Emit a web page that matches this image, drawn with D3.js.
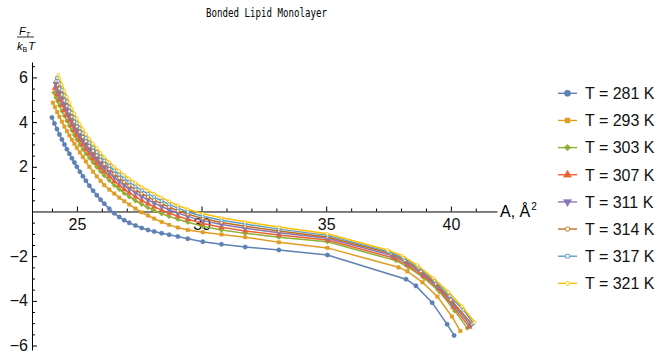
<!DOCTYPE html>
<html>
<head>
<meta charset="utf-8">
<script src="https://cdn.jsdelivr.net/npm/d3@7"></script>
<style>
body { margin: 0; background: #fff; }
svg text { font-family: "Liberation Sans", Arial, sans-serif; }
</style>
</head>
<body>
<svg id="chart" width="661" height="358"></svg>
<script>
// shared area grid (A, in square angstrom) for the dense part of every curve
var areaGrid = [24.3, 24.4, 24.5, 24.6, 24.7, 24.8, 24.9, 25.0, 25.12, 25.24, 25.36, 25.5,
    25.65, 25.8, 25.95, 26.1, 26.3, 26.5, 26.7, 26.9, 27.1, 27.35, 27.6, 27.85,
    28.1, 28.4, 28.7, 29.05, 29.45, 30.05, 30.8, 31.75, 33.1, 35.05];

var temps = [281, 293, 303, 307, 311, 314, 317, 321];
var colors = ["#5e81b5", "#e19c24", "#8fb032", "#eb6235", "#8778b3", "#c56e1a", "#5d9ec7", "#ffbf00"];

var s281 = {
    head: [[24.0, 4.21], [24.1, 3.94], [24.2, 3.69]],
    body: [3.45, 3.22, 3.00, 2.79, 2.58, 2.38, 2.19, 2.0, 1.78, 1.58, 1.38, 1.15,
        0.93, 0.73, 0.53, 0.35, 0.12, -0.08, -0.25, -0.39, -0.51, -0.63, -0.74, -0.83,
        -0.9, -0.97, -1.04, -1.12, -1.22, -1.35, -1.47, -1.59, -1.72, -1.95],
    tail: [[38.2, -3.03], [38.6, -3.33], [39.25, -4.08], [39.85, -5.05], [40.13, -5.55]]
};
var s293 = {
    head: [[24.04, 4.87], [24.12, 4.67], [24.21, 4.45]],
    body: [4.24, 4.02, 3.80, 3.60, 3.40, 3.21, 3.03, 2.85, 2.64, 2.44, 2.24, 2.0,
        1.78, 1.57, 1.37, 1.18, 0.98, 0.8, 0.62, 0.46, 0.31, 0.13, -0.04, -0.18,
        -0.32, -0.47, -0.6, -0.72, -0.83, -0.93, -1.03, -1.15, -1.38, -1.63],
    tail: [[37.9, -2.5], [38.26, -2.68], [38.86, -3.17], [39.46, -3.81], [40.04, -4.7], [40.38, -5.35]]
};
var s303 = {
    head: [[24.08, 5.32], [24.16, 5.1], [24.23, 4.93]],
    body: [4.74, 4.5, 4.28, 4.06, 3.84, 3.63, 3.42, 3.22, 3.0, 2.79, 2.59, 2.4,
        2.19, 1.99, 1.79, 1.61, 1.39, 1.17, 0.99, 0.81, 0.66, 0.48, 0.32, 0.18,
        0.04, -0.1, -0.22, -0.35, -0.48, -0.66, -0.83, -0.98, -1.15, -1.36],
    tail: [[37.8, -2.2], [38.3, -2.5], [38.95, -3.0], [39.55, -3.6], [40.15, -4.45], [40.66, -5.22]]
};
var s307 = {
    head: [[24.12, 5.52], [24.21, 5.25]],
    body: [5.01, 4.76, 4.53, 4.30, 4.07, 3.85, 3.63, 3.42, 3.20, 2.99, 2.78, 2.59,
        2.37, 2.17, 1.97, 1.79, 1.57, 1.35, 1.17, 0.99, 0.84, 0.66, 0.49, 0.35,
        0.21, 0.06, -0.07, -0.21, -0.35, -0.54, -0.71, -0.87, -1.05, -1.28],
    tail: [[37.7, -2.08], [38.25, -2.4], [38.9, -2.9], [39.5, -3.47], [40.1, -4.28], [40.74, -5.16]]
};
var s311 = {
    head: [[24.15, 5.72], [24.23, 5.49]],
    body: [5.29, 5.03, 4.78, 4.54, 4.30, 4.08, 3.85, 3.64, 3.41, 3.19, 2.99, 2.78,
        2.57, 2.37, 2.16, 1.98, 1.76, 1.54, 1.36, 1.18, 1.02, 0.84, 0.67, 0.52,
        0.38, 0.22, 0.08, -0.07, -0.22, -0.41, -0.58, -0.75, -0.95, -1.20],
    tail: [[37.65, -1.97], [38.2, -2.28], [38.85, -2.78], [39.45, -3.35], [40.05, -4.1], [40.8, -5.1]]
};
var s314 = {
    head: [[24.17, 5.84], [24.24, 5.66]],
    body: [5.50, 5.23, 4.97, 4.72, 4.48, 4.24, 4.02, 3.80, 3.56, 3.34, 3.14, 2.93,
        2.71, 2.51, 2.30, 2.12, 1.90, 1.68, 1.50, 1.32, 1.16, 0.98, 0.80, 0.65,
        0.51, 0.35, 0.20, 0.03, -0.12, -0.31, -0.49, -0.66, -0.87, -1.14],
    tail: [[37.6, -1.88], [38.15, -2.18], [38.8, -2.68], [39.4, -3.23], [40.0, -3.95], [40.85, -5.05]]
};
var s317 = {
    head: [[24.2, 5.98], [24.26, 5.84]],
    body: [5.72, 5.44, 5.18, 4.92, 4.66, 4.42, 4.19, 3.96, 3.73, 3.50, 3.29, 3.08,
        2.86, 2.66, 2.45, 2.27, 2.05, 1.83, 1.65, 1.47, 1.31, 1.12, 0.94, 0.79,
        0.64, 0.48, 0.32, 0.15, -0.02, -0.21, -0.39, -0.56, -0.79, -1.07],
    tail: [[37.5, -1.8], [38.1, -2.08], [38.7, -2.52], [39.35, -3.1], [39.95, -3.78], [40.5, -4.4], [40.9, -5.0]]
};
var s321 = {
    head: [[24.25, 6.12]],
    body: [5.97, 5.68, 5.4, 5.13, 4.87, 4.62, 4.38, 4.15, 3.91, 3.68, 3.47, 3.25,
        3.03, 2.83, 2.62, 2.43, 2.21, 2.0, 1.81, 1.64, 1.47, 1.28, 1.1, 0.94,
        0.79, 0.62, 0.45, 0.27, 0.1, -0.1, -0.28, -0.46, -0.7, -1.0],
    tail: [[37.45, -1.72], [38.05, -1.98], [38.65, -2.4], [39.3, -2.98], [39.9, -3.6], [40.45, -4.25], [40.95, -4.95]]
};

var xMajor = [25, 30, 35, 40];
var yMajor = [-6, -4, -2, 2, 4, 6];

var allSeries = [s281, s293, s303, s307, s311, s314, s317, s321];

var svg = d3.select("#chart");

var x = d3.scaleLinear().domain([23.2, 41.85]).range([32, 497]);
var y = d3.scaleLinear().domain([-6.2, 6.69]).range([350, 62]);

// title
svg.append("text")
    .attr("x", 266.5).attr("y", 17)
    .attr("text-anchor", "middle")
    .style("font-family", "'DejaVu Sans Mono', monospace")
    .style("font-size", "11.5px")
    .attr("textLength", 121)
    .attr("lengthAdjust", "spacingAndGlyphs")
    .text("Bonded Lipid Monolayer");

/* axes, mathematica style: ticks point inward */
var xMinor = d3.range(24, 42).filter(function(d){ return xMajor.indexOf(d) < 0; });
var yMinor = d3.range(-12, 14).map(function(d){ return d / 2; })
    .filter(function(d){ return yMajor.indexOf(d) < 0 && d !== 0; });

var gx = svg.append("g").attr("transform", "translate(0," + y(0) + ")");
gx.call(d3.axisBottom(x).tickValues(xMajor).tickSize(-5).tickSizeOuter(0).tickPadding(7));
gx.append("g").call(d3.axisBottom(x).tickValues(xMinor).tickSize(-3).tickSizeOuter(0).tickFormat(""))
    .select(".domain").remove();

var gy = svg.append("g").attr("transform", "translate(" + x(23.2) + ",0)");
gy.call(d3.axisLeft(y).tickValues(yMajor).tickSize(-5).tickSizeOuter(0).tickPadding(4));
gy.append("g").call(d3.axisLeft(y).tickValues(yMinor).tickSize(-3).tickSizeOuter(0).tickFormat(""))
    .select(".domain").remove();

svg.selectAll(".domain, .tick line").attr("stroke", "#000");
svg.selectAll(".tick text").style("font-size", "16px").style("font-family", "'Liberation Sans', Arial, sans-serif").attr("fill", "#111");

// x label
var xl = svg.append("text").attr("x", 500).attr("y", 217).style("font-size", "16px").text("A, Å");
xl.append("tspan").attr("dy", -7).attr("dx", 1).style("font-size", "10px").text("2");

// y label as a fraction
var yl1 = svg.append("text").attr("x", 19).attr("y", 35).style("font-size", "11px").style("font-style", "italic").text("F");
yl1.append("tspan").attr("dy", 2).style("font-size", "7px").text("T");
svg.append("line").attr("x1", 17).attr("x2", 34).attr("y1", 37).attr("y2", 37).attr("stroke", "#000").attr("stroke-width", 0.8);
var yl2 = svg.append("text").attr("x", 17).attr("y", 50).style("font-size", "11px").style("font-style", "italic").text("k");
yl2.append("tspan").attr("dy", 2).style("font-size", "7px").style("font-style", "normal").text("B");
yl2.append("tspan").attr("dy", -2).attr("dx", 1).text("T");

/* markers: filled circle, square, diamond, up triangle, down triangle, then open circle, square, diamond */
var markerTypes = [
    { sym: d3.symbolCircle, size: 16, rot: 0, open: false },
    { sym: d3.symbolSquare, size: 13, rot: 0, open: false },
    { sym: d3.symbolSquare, size: 12, rot: 45, open: false },
    { sym: d3.symbolTriangle, size: 15, rot: 0, open: false },
    { sym: d3.symbolTriangle, size: 15, rot: 180, open: false },
    { sym: d3.symbolCircle, size: 8, rot: 0, open: true },
    { sym: d3.symbolSquare, size: 7, rot: 0, open: true },
    { sym: d3.symbolSquare, size: 6, rot: 45, open: true }
];

function drawMarker(sel, i, px, py, big){
    var m = markerTypes[i];
    var k = big ? 2 : 1;
    sel.append("path")
        .attr("d", d3.symbol().type(m.sym).size(m.size * k)())
        .attr("transform", "translate(" + px + "," + py + ") rotate(" + m.rot + ")")
        .attr("fill", m.open ? "#fff" : colors[i])
        .attr("stroke", colors[i])
        .attr("stroke-width", m.open ? 0.9 : 0.3);
}

var line = d3.line().x(function(d){ return x(d[0]); }).y(function(d){ return y(d[1]); });

allSeries.forEach(function(s, i){
    var pts = s.head.concat(areaGrid.map(function(a, k){ return [a, s.body[k]]; })).concat(s.tail);
    var g = svg.append("g");
    g.append("path")
        .attr("d", line(pts))
        .attr("fill", "none")
        .attr("stroke", colors[i])
        .attr("stroke-width", 1.5);
    pts.forEach(function(p){ drawMarker(g, i, x(p[0]), y(p[1]), false); });
});

// legend
var legend = svg.append("g");
temps.forEach(function(t, i){
    var ly = 93.3 + i * 27.15;
    legend.append("line")
        .attr("x1", 558).attr("x2", 577).attr("y1", ly).attr("y2", ly)
        .attr("stroke", colors[i]).attr("stroke-width", 1.4);
    drawMarker(legend, i, 567.5, ly, true);
    legend.append("text")
        .attr("x", 585).attr("y", ly).attr("dy", "0.36em")
        .style("font-size", "16px").attr("fill", "#111")
        .text("T = " + t + " K");
});
</script>
</body>
</html>
